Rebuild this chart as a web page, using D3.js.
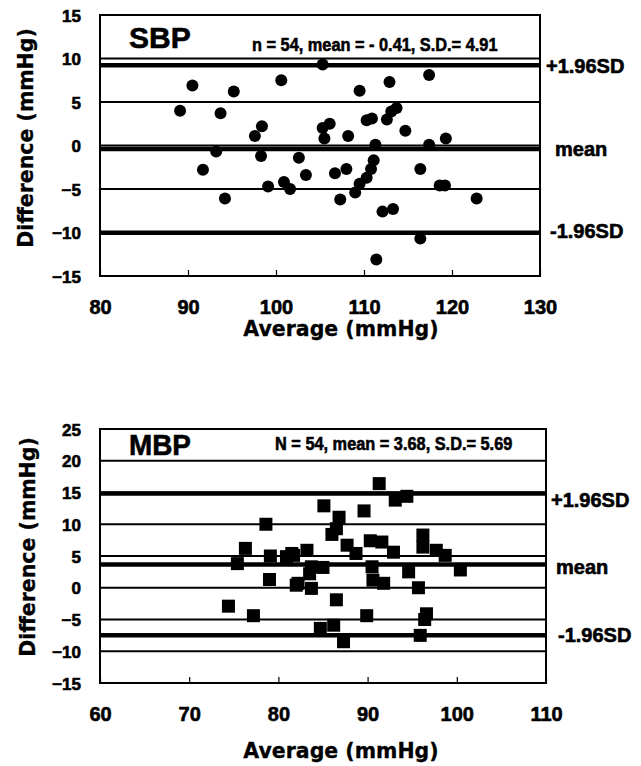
<!DOCTYPE html>
<html>
<head>
<meta charset="utf-8">
<script src="https://cdn.jsdelivr.net/npm/d3@7"></script>
<style>
  body { margin: 0; background: #fff; }
  svg text { font-family: "Liberation Sans", Arial, sans-serif; font-weight: bold; fill: #000; stroke: #000; stroke-width: 0.6px; }
  .title { font-family: "DejaVu Sans", Verdana, sans-serif; font-size: 20.5px; stroke-width: 0.3px; }
</style>
</head>
<body>
<svg id="chartSvg" width="641" height="766"></svg>
<script>
// SBP panel data (average vs difference, mmHg)
const sbpAverage = [89.1, 90.5, 95.2, 93.7, 100.6, 105.3, 98.4, 97.6, 93.2, 91.7, 94.2, 98.3,
  102.6, 103.4, 99.1, 100.9, 101.6, 105.3, 106.1, 105.5, 108.2, 106.7, 108.0, 107.3,
  109.5, 112.9, 117.4, 110.3, 110.9, 112.6, 113.1, 113.7, 114.7, 111.3, 117.4, 119.3,
  111.1, 110.8, 110.3, 109.5, 109.0, 116.4, 118.6, 119.2, 122.8, 112.1, 113.3, 116.4, 111.4];
const sbpDifference = [4.0, 6.9, 6.2, 3.7, 7.5, 9.3, 2.2, 1.1, -0.7, -2.8, -6.1, -1.2,
  -1.4, -3.4, -4.7, -4.2, -5.0, 2.0, 2.5, 0.8, 1.1, -3.2, -2.7, -6.2,
  6.3, 7.3, 8.1, 2.9, 3.1, 3.0, 3.9, 4.3, 1.7, 0.1, 0.1, 0.8,
  -1.7, -2.7, -3.7, -4.4, -5.4, -2.7, -4.6, -4.6, -6.1, -7.6, -7.3, -10.7, -13.1];
const sbpStats = { n: 54, mean: -0.41, sd: 4.91 };

// MBP panel data
const mbpAverage = [78.6, 76.3, 75.4, 79.1, 79.0, 80.9, 81.7, 82.0, 74.4, 77.2,
  91.3, 93.1, 94.4, 85.1, 89.6, 86.8, 86.0, 86.5, 87.7, 88.7, 90.3, 91.6, 92.9,
  96.2, 96.2, 97.7, 98.7, 100.4, 83.2, 81.5, 83.7, 85.0, 83.5, 82.2, 83.7,
  90.5, 90.6, 91.8, 94.6, 95.7, 86.5, 89.9, 96.6, 96.4, 84.7, 86.2, 87.3, 95.9];
const mbpDifference = [10.0, 6.2, 3.8, 5.0, 1.3, 4.9, 5.1, 0.4, -2.9, -4.4,
  16.4, 13.8, 14.4, 12.9, 12.1, 11.1, 8.4, 9.3, 6.7, 5.4, 7.4, 7.2, 5.6,
  8.3, 6.4, 5.9, 5.1, 2.8, 5.9, 5.4, 3.3, 3.2, 2.2, 0.7, -0.1,
  3.3, 1.2, 0.7, 2.5, 0.0, -1.9, -4.4, -4.1, -5.0, -6.4, -5.9, -8.5, -7.5];
const mbpStats = { n: 54, mean: 3.68, sd: 5.69 };

const sdLabels = ["+1.96SD", "mean", "-1.96SD"];

const svg = d3.select("#chartSvg");

function drawPanel(opt) {
  const g = svg.append("g");
  const x = d3.scaleLinear().domain(opt.xDomain).range([opt.left, opt.right]);
  const y = d3.scaleLinear().domain(opt.yDomain).range([opt.bottom, opt.top]);
  const yTicks = d3.range(opt.yDomain[0], opt.yDomain[1] + 1, 5);
  const xTicks = d3.range(opt.xDomain[0], opt.xDomain[1] + 1, 10);

  // thin gridlines every 5
  g.selectAll(".grid")
    .data(yTicks.filter(v => v > opt.yDomain[0] && v < opt.yDomain[1]))
    .enter().append("line")
    .attr("x1", opt.left).attr("x2", opt.right)
    .attr("y1", d => y(d)).attr("y2", d => y(d))
    .attr("stroke", "#000").attr("stroke-width", 1.8);

  // mean and limits of agreement
  const limits = [opt.stats.mean + 1.96 * opt.stats.sd, opt.stats.mean, opt.stats.mean - 1.96 * opt.stats.sd];
  g.selectAll(".limit")
    .data(limits)
    .enter().append("line")
    .attr("x1", opt.left).attr("x2", opt.right)
    .attr("y1", d => y(d)).attr("y2", d => y(d))
    .attr("stroke", "#000").attr("stroke-width", 4.5);

  // frame
  g.append("rect")
    .attr("x", opt.left).attr("y", opt.top)
    .attr("width", opt.right - opt.left).attr("height", opt.bottom - opt.top)
    .attr("fill", "none").attr("stroke", "#000").attr("stroke-width", 2);

  // points
  const pts = opt.avg.map((a, i) => [a, opt.diff[i]]);
  if (opt.marker === "circle") {
    g.selectAll("circle")
      .data(pts)
      .enter().append("circle")
      .attr("cx", d => x(d[0])).attr("cy", d => y(d[1]))
      .attr("r", 6).attr("fill", "#000");
  } else {
    g.selectAll(".pt")
      .data(pts)
      .enter().append("rect")
      .attr("x", d => x(d[0]) - 6.5).attr("y", d => y(d[1]) - 6.5)
      .attr("width", 13).attr("height", 13).attr("fill", "#000");
  }

  // axes
  const xAxis = g.append("g")
    .attr("transform", `translate(0, ${opt.bottom})`)
    .call(d3.axisBottom(x).tickValues(xTicks).tickSizeInner(-6).tickSizeOuter(0).tickPadding(24));
  xAxis.select(".domain").remove();
  xAxis.selectAll("line").attr("stroke-width", 1.2);
  xAxis.selectAll("text")
    .style("font-family", "'Liberation Sans', Arial, sans-serif")
    .style("font-weight", "bold")
    .style("font-size", "20px");

  const yAxis = g.append("g")
    .attr("transform", `translate(${opt.left}, 0)`)
    .call(d3.axisLeft(y).tickValues(yTicks).tickSize(0).tickPadding(19));
  yAxis.select(".domain").remove();
  yAxis.selectAll("text")
    .style("font-family", "'Liberation Sans', Arial, sans-serif")
    .style("font-weight", "bold")
    .style("font-size", "17px")
    .attr("dy", "0.36em");

  // axis titles
  g.append("text")
    .attr("class", "title")
    .attr("x", 341).attr("y", opt.xTitleY)
    .attr("text-anchor", "middle")
    .text("Average (mmHg)");

  g.append("text")
    .attr("class", "title")
    .attr("transform", `translate(${opt.yTitleX}, ${opt.yTitleY}) rotate(-90)`)
    .attr("text-anchor", "middle")
    .text("Difference (mmHg)");

  // panel name and statistics
  g.append("text")
    .attr("transform", `translate(${opt.left + 29}, ${opt.top + opt.nameDy}) scale(${opt.nameScale}, 1)`)
    .style("font-size", "30px")
    .text(opt.name);

  g.append("text")
    .attr("transform", `translate(${opt.statsX}, ${opt.top + opt.statsDy}) scale(0.86, 1)`)
    .style("font-size", "19px")
    .text(opt.statsText);

  // right-hand labels
  g.selectAll(".sdlab")
    .data(sdLabels)
    .enter().append("text")
    .attr("x", (d, i) => opt.right + opt.labelDx[i])
    .attr("y", (d, i) => y(limits[i]) + opt.labelDy[i])
    .style("font-size", "20px")
    .text(d => d);
}

drawPanel({
  name: "SBP", nameScale: 1, nameDy: 33,
  statsText: "n = 54, mean = - 0.41, S.D.= 4.91", statsX: 252, statsDy: 36,
  stats: sbpStats, avg: sbpAverage, diff: sbpDifference, marker: "circle",
  xDomain: [80, 130], yDomain: [-15, 15],
  left: 100, right: 540, top: 15, bottom: 276,
  xTitleY: 336, yTitleX: 33, yTitleY: 138,
  labelDx: [6, 15, 10], labelDy: [8, 7, 5]
});

drawPanel({
  name: "MBP", nameScale: 0.93, nameDy: 26,
  statsText: "N = 54, mean = 3.68, S.D.= 5.69", statsX: 275, statsDy: 21,
  stats: mbpStats, avg: mbpAverage, diff: mbpDifference, marker: "square",
  xDomain: [60, 110], yDomain: [-15, 25],
  left: 100, right: 546, top: 429, bottom: 683,
  xTitleY: 758, yTitleX: 35, yTitleY: 547,
  labelDx: [5, 10, 12], labelDy: [13, 10, 7]
});
</script>
</body>
</html>
